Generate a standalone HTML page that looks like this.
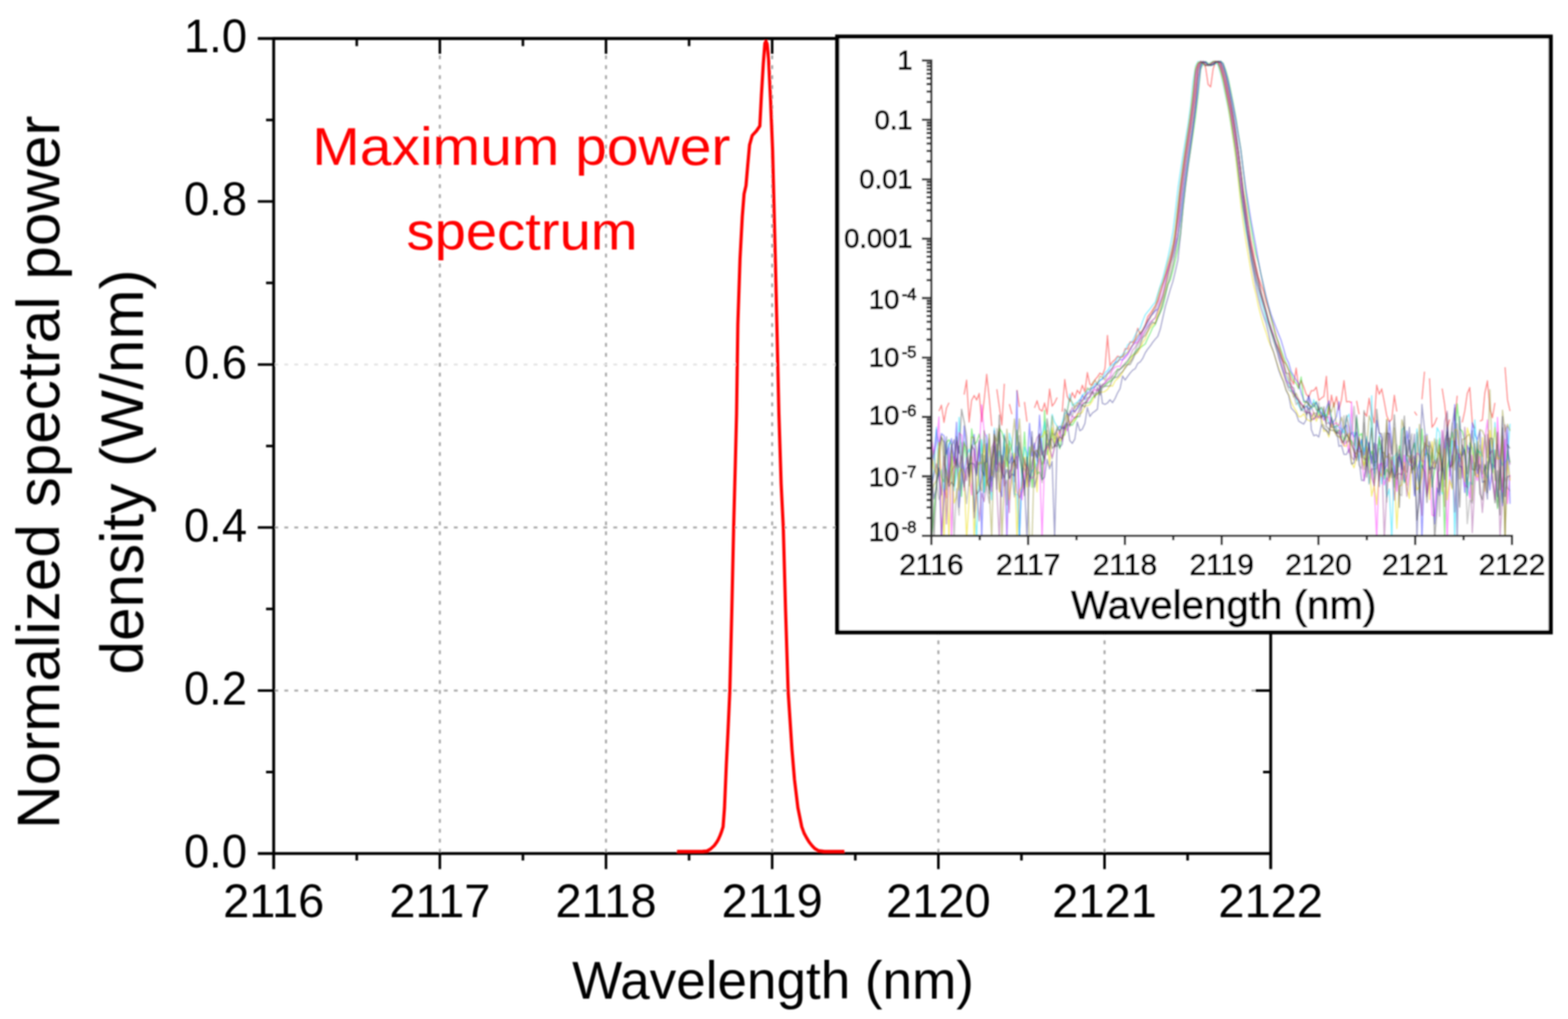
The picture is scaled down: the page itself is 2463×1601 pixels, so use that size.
<!DOCTYPE html><html><head><meta charset="utf-8"><title>Spectrum</title><style>html,body{margin:0;padding:0;background:#fff;overflow:hidden}svg{display:block}</style></head><body><div id="w"><svg width="2463" height="1601" viewBox="0 0 2463 1601" font-family='"Liberation Sans", Arial, sans-serif' fill="#000"><defs><filter id="bl" filterUnits="userSpaceOnUse" x="0" y="0" width="2463" height="1601"><feGaussianBlur stdDeviation="1"/></filter></defs><rect width="2463" height="1601" fill="#fff"/><g filter="url(#bl)"><line x1="690.9" y1="87.02" x2="690.9" y2="1339.0" stroke="#a2a2a2" stroke-width="3" stroke-dasharray="6.0 9.58"/><line x1="951.9" y1="87.02" x2="951.9" y2="1339.0" stroke="#a2a2a2" stroke-width="3" stroke-dasharray="6.0 9.58"/><line x1="1212.9" y1="87.02" x2="1212.9" y2="1339.0" stroke="#a2a2a2" stroke-width="3" stroke-dasharray="6.0 9.58"/><line x1="1474.0" y1="87.02" x2="1474.0" y2="1339.0" stroke="#a2a2a2" stroke-width="3" stroke-dasharray="6.0 9.58"/><line x1="1735.0" y1="87.02" x2="1735.0" y2="1339.0" stroke="#a2a2a2" stroke-width="3" stroke-dasharray="6.0 9.58"/><line x1="431.04" y1="1084.9" x2="1994.0" y2="1084.9" stroke="#a6a6a6" stroke-width="3" stroke-dasharray="6.0 9.66"/><line x1="431.04" y1="828.8" x2="1994.0" y2="828.8" stroke="#a6a6a6" stroke-width="3" stroke-dasharray="6.0 9.66"/><line x1="431.04" y1="572.7" x2="1994.0" y2="572.7" stroke="#e2e2e2" stroke-width="3" stroke-dasharray="6.0 9.66"/><line x1="404.9" y1="60.5" x2="1996.0" y2="60.5" stroke="#000" stroke-width="4.5"/><line x1="404.9" y1="1341.0" x2="1998.0" y2="1341.0" stroke="#000" stroke-width="4.5"/><line x1="429.9" y1="58.5" x2="429.9" y2="1365.5" stroke="#000" stroke-width="4.5"/><line x1="1996.0" y1="58.5" x2="1996.0" y2="1365.5" stroke="#000" stroke-width="4.5"/><path d="M560.4,1341.0v11 M560.4,60.5v12 M690.9,1341.0v24.5 M690.9,60.5v24 M821.4,1341.0v11 M821.4,60.5v12 M951.9,1341.0v24.5 M951.9,60.5v24 M1082.4,1341.0v11 M1082.4,60.5v12 M1212.9,1341.0v24.5 M1212.9,60.5v24 M1343.5,1341.0v11 M1343.5,60.5v12 M1474.0,1341.0v24.5 M1474.0,60.5v24 M1604.5,1341.0v11 M1604.5,60.5v12 M1735.0,1341.0v24.5 M1735.0,60.5v24 M1865.5,1341.0v11 M1865.5,60.5v12 M429.9,1213.0h-12 M1996.0,1213.0h-12 M429.9,1084.9h-25 M1996.0,1084.9h-24 M429.9,956.8h-12 M1996.0,956.8h-12 M429.9,828.8h-25 M1996.0,828.8h-24 M429.9,700.8h-12 M1996.0,700.8h-12 M429.9,572.7h-25 M1996.0,572.7h-24 M429.9,444.6h-12 M1996.0,444.6h-12 M429.9,316.6h-25 M1996.0,316.6h-24 M429.9,188.5h-12 M1996.0,188.5h-12" stroke="#000" stroke-width="4.0" fill="none"/><polyline fill="none" stroke="#ff0000" stroke-width="5" stroke-linejoin="round" stroke-linecap="butt" points="1063.5,1337.8 1085.0,1337.8 1104.0,1337.6 1110.6,1337.0 1116.0,1334.0 1122.0,1328.5 1126.0,1323.0 1128.3,1319.0 1131.0,1313.0 1133.3,1307.0 1135.8,1299.0 1138.0,1270.0 1141.0,1200.0 1143.5,1150.0 1146.4,1086.0 1149.5,960.0 1152.4,829.0 1155.0,730.0 1157.0,650.0 1159.0,509.5 1162.4,407.0 1166.0,340.0 1168.8,304.6 1171.8,291.8 1174.5,260.0 1177.4,227.8 1181.6,212.9 1188.0,206.0 1193.5,198.0 1196.0,150.0 1199.0,100.0 1201.5,68.0 1203.2,65.0 1205.0,69.0 1207.2,92.0 1210.5,160.0 1213.6,236.0 1218.0,411.0 1221.0,540.0 1223.5,650.0 1227.0,760.0 1230.4,829.0 1234.0,960.0 1238.0,1086.0 1244.0,1177.5 1248.0,1225.0 1253.3,1269.0 1259.4,1299.0 1263.0,1309.0 1267.0,1316.4 1271.0,1323.0 1275.8,1329.0 1280.0,1333.3 1285.9,1336.6 1295.0,1337.7 1326.3,1337.8"/><line x1="429.9" y1="60.5" x2="1996.0" y2="60.5" stroke="#000" stroke-width="4.5"/><text transform="translate(429.9,1441) scale(0.985,1)" font-size="75" text-anchor="middle">2116</text><text transform="translate(690.9,1441) scale(0.985,1)" font-size="75" text-anchor="middle">2117</text><text transform="translate(951.9,1441) scale(0.985,1)" font-size="75" text-anchor="middle">2118</text><text transform="translate(1212.9,1441) scale(0.985,1)" font-size="75" text-anchor="middle">2119</text><text transform="translate(1474.0,1441) scale(0.985,1)" font-size="75" text-anchor="middle">2120</text><text transform="translate(1735.0,1441) scale(0.985,1)" font-size="75" text-anchor="middle">2121</text><text transform="translate(1996.0,1441) scale(0.985,1)" font-size="75" text-anchor="middle">2122</text><text transform="translate(388,1362.8) scale(0.95,1)" font-size="75" text-anchor="end">0.0</text><text transform="translate(388,1106.7) scale(0.95,1)" font-size="75" text-anchor="end">0.2</text><text transform="translate(388,850.6) scale(0.95,1)" font-size="75" text-anchor="end">0.4</text><text transform="translate(388,594.5) scale(0.95,1)" font-size="75" text-anchor="end">0.6</text><text transform="translate(388,338.4) scale(0.95,1)" font-size="75" text-anchor="end">0.8</text><text transform="translate(388,82.3) scale(0.95,1)" font-size="75" text-anchor="end">1.0</text><text x="898.7" y="1569" font-size="83.3">Wavelength (nm)</text><text transform="translate(93,1302.4) rotate(-90)" font-size="94.7">Normalized spectral power</text><text transform="translate(224.5,1059.8) rotate(-90)" font-size="94.7">density (W/nm)</text><g fill="#ff0000"><text transform="translate(490.6,259.4) scale(1.066,1)" font-size="84">Maximum power</text><text transform="translate(638.5,391.8) scale(1.051,1)" font-size="84">spectrum</text></g><rect x="1315.2" y="57.6" width="1120.6" height="935.8" fill="#fff" stroke="#000" stroke-width="6.6"/><clipPath id="ic"><rect x="1463.0" y="85.0" width="912.0" height="756.8"/></clipPath><g clip-path="url(#ic)"><path d="M1474.9,645.8 L1478.8,636.7 L1482.8,663.6 L1486.7,641.1 L1490.7,632.8 M1514.4,620.0 L1518.3,597.3 L1522.3,663.2 L1526.2,628.9 L1530.2,621.4 L1534.1,628.5 L1538.1,618.2 L1542.0,662.4 L1546.0,627.6 L1549.9,588.1 L1553.9,625.7 L1557.8,669.5 M1565.8,611.5 L1569.7,639.0 L1573.7,667.7 L1577.6,602.9 M1585.5,634.8 L1589.5,650.7 M1597.4,612.7 L1601.3,639.4 M1609.2,631.5 L1613.2,662.5 M1625.0,640.9 L1629.0,629.6 L1632.9,643.2 L1636.9,645.9 L1640.8,633.2 L1644.8,650.9 L1648.7,611.2 L1652.7,638.1 L1656.6,632.9 L1660.6,624.5 M1668.5,647.0 L1672.5,596.2 L1676.4,622.8 L1680.4,630.9 L1684.3,616.7 L1688.3,625.4 L1692.2,613.1 L1696.2,618.8 L1700.1,605.2 L1704.1,616.0 L1708.0,585.4 L1712.0,604.0 L1715.9,605.1 L1719.9,596.8 L1723.8,592.2 L1727.8,586.1 L1731.7,589.2 L1735.7,578.7 L1739.6,527.0 L1743.6,574.5 L1747.5,568.3 L1751.5,565.2 L1755.4,559.5 L1759.4,561.2 L1763.4,560.4 L1767.3,547.9 L1771.3,548.3 L1775.2,537.1 L1779.2,538.1 L1783.1,532.6 L1787.1,515.7 L1791.0,525.1 L1795.0,519.8 L1798.9,511.1 L1802.9,497.5 L1806.8,492.5 L1810.8,486.2 L1814.7,480.0 L1818.7,472.8 L1822.6,460.0 L1826.6,447.2 L1830.5,433.2 L1834.5,420.2 L1838.4,407.4 L1842.4,392.6 L1846.3,370.9 L1850.3,342.5 L1854.2,306.3 L1858.2,276.5 L1862.2,249.4 L1866.1,225.4 L1870.1,200.3 L1874.0,172.5 L1878.0,141.7 L1881.9,106.3 L1885.9,97.9 L1889.8,97.5 L1893.8,106.4 L1897.7,132.7 L1901.7,136.6 L1905.6,108.2 L1909.6,97.2 L1913.5,96.4 L1917.5,100.5 L1921.4,113.7 L1925.4,128.7 L1929.3,148.2 L1933.3,167.0 L1937.2,189.6 L1941.2,213.8 L1945.1,238.5 L1949.1,269.2 L1953.0,299.6 L1957.0,323.9 L1961.0,353.5 L1964.9,377.7 L1968.9,397.4 L1972.8,417.3 L1976.8,435.4 L1980.7,446.8 L1984.7,457.8 L1988.6,473.7 L1992.6,485.9 L1996.5,499.6 L2000.5,512.5 L2004.4,526.8 L2008.4,541.1 L2012.3,554.5 L2016.3,567.4 L2020.2,572.2 L2024.2,582.3 L2028.1,596.1 L2032.1,603.6 L2036.0,578.4 L2040.0,609.7 L2043.9,597.6 L2047.9,607.8 L2051.8,619.5 L2055.8,623.8 L2059.8,613.8 L2063.7,613.6 L2067.7,608.1 L2071.6,629.2 L2075.6,625.4 L2079.5,622.9 L2083.5,591.2 L2087.4,651.7 L2091.4,620.8 L2095.3,639.5 L2099.3,623.0 L2103.2,644.0 L2107.2,627.8 L2111.1,598.1 L2115.1,631.4 L2119.0,630.7 L2123.0,632.8 M2130.9,629.6 L2134.8,650.8 M2142.7,647.9 L2146.7,654.0 L2150.6,625.9 L2154.6,649.8 L2158.6,664.4 L2162.5,605.1 L2166.5,619.5 L2170.4,610.9 L2174.4,631.2 L2178.3,653.1 L2182.3,662.7 L2186.2,658.5 L2190.2,621.1 L2194.1,646.7 M2221.8,646.7 L2225.7,652.7 M2233.6,627.3 L2237.6,583.8 M2245.5,594.4 L2249.4,671.5 L2253.4,665.6 L2257.4,655.9 M2265.3,610.4 L2269.2,635.2 L2273.2,673.5 L2277.1,658.9 M2285.0,661.1 L2289.0,621.6 M2296.9,663.8 L2300.8,645.9 L2304.8,618.1 L2308.7,608.9 L2312.7,664.5 L2316.6,673.2 M2324.5,661.6 L2328.5,660.0 L2332.4,617.2 L2336.4,598.4 L2340.3,642.2 L2344.3,656.3 L2348.2,632.8 M2364.1,576.8 L2368.0,628.2 L2372.0,646.1" fill="none" stroke="#ff2020" stroke-opacity="0.5" stroke-width="2.1" stroke-linejoin="round"/><path d="M1463.0,849.3 L1467.0,806.2 L1470.9,759.4 L1474.9,734.8 L1478.8,750.5 L1482.8,757.1 L1486.7,695.1 L1490.7,690.8 L1494.6,699.2 L1498.6,761.8 L1502.5,724.0 L1506.5,734.1 L1510.4,780.0 L1514.4,693.9 L1518.3,723.6 L1522.3,744.9 L1526.2,673.9 L1530.2,698.3 L1534.1,694.9 L1538.1,682.1 L1542.0,700.0 L1546.0,773.7 L1549.9,741.2 L1553.9,689.4 L1557.8,755.2 L1561.8,725.3 L1565.8,711.8 L1569.7,673.0 L1573.7,678.3 L1577.6,693.2 L1581.6,733.3 L1585.5,692.5 L1589.5,706.8 L1593.4,731.8 L1597.4,675.9 L1601.3,707.5 L1605.3,751.2 L1609.2,678.9 L1613.2,732.8 L1617.1,702.3 L1621.1,765.6 L1625.0,721.3 L1629.0,745.0 L1632.9,741.5 L1636.9,754.1 L1640.8,644.9 L1644.8,714.4 L1648.7,701.6 L1652.7,676.0 L1656.6,703.0 L1660.6,686.3 L1664.6,705.1 L1668.5,683.3 L1672.5,683.5 L1676.4,668.1 L1680.4,666.8 L1684.3,668.3 L1688.3,661.8 L1692.2,655.3 L1696.2,640.3 L1700.1,637.1 L1704.1,632.1 L1708.0,633.2 L1712.0,632.2 L1715.9,624.7 L1719.9,621.5 L1723.8,619.0 L1727.8,611.8 L1731.7,606.3 L1735.7,606.4 L1739.6,602.3 L1743.6,599.2 L1747.5,597.2 L1751.5,591.2 L1755.4,579.7 L1759.4,580.5 L1763.4,574.8 L1767.3,572.3 L1771.3,568.4 L1775.2,561.6 L1779.2,558.1 L1783.1,553.2 L1787.1,548.4 L1791.0,546.7 L1795.0,543.3 L1798.9,540.5 L1802.9,531.4 L1806.8,523.4 L1810.8,514.4 L1814.7,510.0 L1818.7,498.2 L1822.6,490.9 L1826.6,481.9 L1830.5,465.5 L1834.5,446.9 L1838.4,439.7 L1842.4,424.9 L1846.3,408.6 L1850.3,389.2 L1854.2,367.8 L1858.2,328.4 L1862.2,292.5 L1866.1,261.1 L1870.1,236.7 L1874.0,210.9 L1878.0,183.8 L1881.9,151.0 L1885.9,109.9 L1889.8,99.6 L1893.8,96.7 L1897.7,99.5 L1901.7,103.3 L1905.6,102.1 L1909.6,99.9 L1913.5,96.9 L1917.5,96.1 L1921.4,99.3 L1925.4,109.8 L1929.3,123.3 L1933.3,142.8 L1937.2,162.2 L1941.2,183.9 L1945.1,209.6 L1949.1,234.7 L1953.0,267.9 L1957.0,303.7 L1961.0,332.6 L1964.9,355.6 L1968.9,380.8 L1972.8,399.2 L1976.8,412.7 L1980.7,430.6 L1984.7,449.6 L1988.6,466.9 L1992.6,482.2 L1996.5,499.0 L2000.5,514.2 L2004.4,528.9 L2008.4,537.7 L2012.3,550.1 L2016.3,561.1 L2020.2,570.6 L2024.2,580.4 L2028.1,588.0 L2032.1,598.2 L2036.0,602.3 L2040.0,610.7 L2043.9,592.4 L2047.9,632.0 L2051.8,631.2 L2055.8,634.7 L2059.8,640.2 L2063.7,639.0 L2067.7,630.8 L2071.6,651.5 L2075.6,654.9 L2079.5,648.9 L2083.5,655.7 L2087.4,634.7 L2091.4,655.2 L2095.3,670.9 L2099.3,679.0 L2103.2,675.2 L2107.2,680.9 L2111.1,692.1 L2115.1,683.1 L2119.0,689.7 L2123.0,692.7 L2126.9,700.2 L2130.9,655.6 L2134.8,685.0 L2138.8,681.1 L2142.7,719.9 L2146.7,732.5 L2150.6,720.6 L2154.6,708.6 L2158.6,726.9 L2162.5,725.0 L2166.5,688.2 L2170.4,711.5 L2174.4,752.3 L2178.3,737.1 L2182.3,745.3 L2186.2,718.2 L2190.2,763.9 L2194.1,731.5 L2198.1,700.7 L2202.0,724.9 L2206.0,758.7 L2209.9,748.5 L2213.9,722.0 L2217.8,708.9 L2221.8,695.9 L2225.7,732.1 L2229.7,774.5 L2233.6,674.1 L2237.6,715.9 L2241.5,711.9 L2245.5,715.8 L2249.4,765.3 L2253.4,739.0 L2257.4,717.6 L2261.3,688.8 L2265.3,725.0 L2269.2,839.7 L2273.2,736.2 L2277.1,714.1 L2281.1,679.1 L2285.0,700.8 L2289.0,634.5 L2292.9,674.3 L2296.9,677.1 L2300.8,692.2 L2304.8,778.8 L2308.7,695.8 L2312.7,705.1 L2316.6,747.0 L2320.6,705.5 L2324.5,711.8 L2328.5,744.8 L2332.4,732.0 L2336.4,737.3 L2340.3,718.8 L2344.3,743.3 L2348.2,707.1 L2352.2,799.0 L2356.2,738.0 L2360.1,790.3 L2364.1,745.5 L2368.0,708.2 L2372.0,726.7" fill="none" stroke="#10e010" stroke-opacity="0.45" stroke-width="2.1" stroke-linejoin="round"/><path d="M1463.0,736.2 L1467.0,712.6 L1470.9,674.7 L1474.9,700.0 L1478.8,681.2 L1482.8,684.5 L1486.7,713.6 L1490.7,699.8 L1494.6,689.1 L1498.6,724.3 L1502.5,663.6 L1506.5,797.2 L1510.4,757.6 L1514.4,669.4 L1518.3,707.3 L1522.3,747.2 L1526.2,709.1 L1530.2,682.7 L1534.1,744.0 L1538.1,694.6 L1542.0,849.3 L1546.0,727.3 L1549.9,725.7 L1553.9,681.7 L1557.8,764.4 L1561.8,736.6 L1565.8,698.3 L1569.7,767.5 L1573.7,780.2 L1577.6,701.7 L1581.6,722.6 L1585.5,728.0 L1589.5,717.2 L1593.4,757.0 L1597.4,614.4 L1601.3,849.3 L1605.3,736.4 L1609.2,767.7 L1613.2,734.3 L1617.1,665.2 L1621.1,716.4 L1625.0,696.2 L1629.0,725.2 L1632.9,652.4 L1636.9,702.1 L1640.8,728.4 L1644.8,682.0 L1648.7,704.6 L1652.7,680.4 L1656.6,683.8 L1660.6,674.5 L1664.6,669.5 L1668.5,673.4 L1672.5,671.6 L1676.4,649.1 L1680.4,652.9 L1684.3,645.2 L1688.3,646.2 L1692.2,641.9 L1696.2,636.6 L1700.1,620.4 L1704.1,628.2 L1708.0,616.8 L1712.0,615.3 L1715.9,609.1 L1719.9,608.2 L1723.8,601.4 L1727.8,597.5 L1731.7,595.7 L1735.7,591.3 L1739.6,586.5 L1743.6,581.8 L1747.5,578.3 L1751.5,569.1 L1755.4,568.6 L1759.4,564.6 L1763.4,565.5 L1767.3,559.3 L1771.3,556.2 L1775.2,549.9 L1779.2,542.8 L1783.1,537.3 L1787.1,532.1 L1791.0,524.5 L1795.0,520.0 L1798.9,514.4 L1802.9,506.6 L1806.8,497.0 L1810.8,493.5 L1814.7,488.4 L1818.7,485.6 L1822.6,475.7 L1826.6,465.8 L1830.5,449.7 L1834.5,434.4 L1838.4,415.9 L1842.4,403.2 L1846.3,386.9 L1850.3,370.4 L1854.2,344.7 L1858.2,309.3 L1862.2,277.5 L1866.1,248.7 L1870.1,223.6 L1874.0,199.8 L1878.0,172.7 L1881.9,143.0 L1885.9,106.8 L1889.8,98.2 L1893.8,97.1 L1897.7,100.5 L1901.7,103.0 L1905.6,101.8 L1909.6,99.2 L1913.5,96.7 L1917.5,96.3 L1921.4,100.3 L1925.4,113.1 L1929.3,127.8 L1933.3,147.3 L1937.2,165.8 L1941.2,187.8 L1945.1,211.6 L1949.1,235.8 L1953.0,267.5 L1957.0,296.4 L1961.0,321.0 L1964.9,345.1 L1968.9,366.7 L1972.8,387.3 L1976.8,410.7 L1980.7,431.0 L1984.7,448.1 L1988.6,464.9 L1992.6,480.6 L1996.5,493.5 L2000.5,504.4 L2004.4,514.7 L2008.4,525.0 L2012.3,534.7 L2016.3,548.0 L2020.2,562.1 L2024.2,569.9 L2028.1,583.7 L2032.1,590.6 L2036.0,597.3 L2040.0,602.3 L2043.9,617.6 L2047.9,628.9 L2051.8,632.2 L2055.8,622.1 L2059.8,634.0 L2063.7,638.6 L2067.7,631.8 L2071.6,643.6 L2075.6,649.2 L2079.5,654.6 L2083.5,641.0 L2087.4,629.9 L2091.4,667.7 L2095.3,661.8 L2099.3,654.7 L2103.2,631.4 L2107.2,682.0 L2111.1,671.2 L2115.1,667.9 L2119.0,693.9 L2123.0,679.5 L2126.9,686.4 L2130.9,679.1 L2134.8,706.3 L2138.8,690.3 L2142.7,714.8 L2146.7,689.7 L2150.6,703.8 L2154.6,719.6 L2158.6,743.7 L2162.5,660.4 L2166.5,680.1 L2170.4,688.4 L2174.4,739.3 L2178.3,731.2 L2182.3,661.2 L2186.2,694.9 L2190.2,750.5 L2194.1,720.5 L2198.1,717.6 L2202.0,730.0 L2206.0,756.5 L2209.9,677.1 L2213.9,701.7 L2217.8,730.4 L2221.8,779.2 L2225.7,744.5 L2229.7,723.6 L2233.6,849.3 L2237.6,737.1 L2241.5,682.5 L2245.5,718.4 L2249.4,750.9 L2253.4,823.2 L2257.4,766.7 L2261.3,778.4 L2265.3,729.3 L2269.2,711.3 L2273.2,671.9 L2277.1,724.1 L2281.1,766.5 L2285.0,635.9 L2289.0,712.0 L2292.9,733.4 L2296.9,733.4 L2300.8,773.8 L2304.8,699.9 L2308.7,709.6 L2312.7,664.3 L2316.6,682.4 L2320.6,691.1 L2324.5,676.5 L2328.5,734.0 L2332.4,740.0 L2336.4,725.2 L2340.3,769.8 L2344.3,728.7 L2348.2,735.6 L2352.2,698.3 L2356.2,723.8 L2360.1,794.4 L2364.1,722.0 L2368.0,670.3 L2372.0,791.6" fill="none" stroke="#2020ff" stroke-opacity="0.42" stroke-width="2.1" stroke-linejoin="round"/><path d="M1463.0,766.2 L1467.0,743.9 L1470.9,671.4 L1474.9,748.0 L1478.8,738.2 L1482.8,772.5 L1486.7,750.5 L1490.7,696.4 L1494.6,753.0 L1498.6,771.1 L1502.5,745.8 L1506.5,655.9 L1510.4,715.7 L1514.4,743.3 L1518.3,716.6 L1522.3,705.8 L1526.2,717.9 L1530.2,789.7 L1534.1,849.3 L1538.1,730.4 L1542.0,690.9 L1546.0,772.7 L1549.9,683.2 L1553.9,740.9 L1557.8,785.3 L1561.8,672.7 L1565.8,741.5 L1569.7,708.5 L1573.7,728.3 L1577.6,681.6 L1581.6,849.3 L1585.5,680.7 L1589.5,695.5 L1593.4,776.7 L1597.4,776.9 L1601.3,849.3 L1605.3,751.3 L1609.2,702.5 L1613.2,711.7 L1617.1,753.8 L1621.1,739.7 L1625.0,736.0 L1629.0,727.3 L1632.9,708.4 L1636.9,683.0 L1640.8,662.4 L1644.8,702.3 L1648.7,693.1 L1652.7,651.1 L1656.6,663.6 L1660.6,670.0 L1664.6,676.8 L1668.5,663.4 L1672.5,649.6 L1676.4,646.9 L1680.4,619.0 L1684.3,637.6 L1688.3,634.1 L1692.2,631.9 L1696.2,627.5 L1700.1,621.7 L1704.1,617.3 L1708.0,613.3 L1712.0,610.1 L1715.9,609.8 L1719.9,602.5 L1723.8,604.7 L1727.8,598.2 L1731.7,593.7 L1735.7,585.3 L1739.6,582.4 L1743.6,576.4 L1747.5,572.6 L1751.5,570.5 L1755.4,561.8 L1759.4,561.0 L1763.4,557.0 L1767.3,551.9 L1771.3,541.7 L1775.2,539.1 L1779.2,534.9 L1783.1,526.7 L1787.1,519.4 L1791.0,515.9 L1795.0,504.4 L1798.9,494.7 L1802.9,489.7 L1806.8,484.9 L1810.8,479.4 L1814.7,474.6 L1818.7,461.3 L1822.6,448.9 L1826.6,436.6 L1830.5,420.8 L1834.5,404.6 L1838.4,386.3 L1842.4,364.0 L1846.3,331.5 L1850.3,295.5 L1854.2,268.8 L1858.2,242.9 L1862.2,218.5 L1866.1,195.1 L1870.1,165.7 L1874.0,126.9 L1878.0,103.4 L1881.9,96.6 L1885.9,97.7 L1889.8,101.7 L1893.8,102.7 L1897.7,101.4 L1901.7,98.4 L1905.6,96.5 L1909.6,97.4 L1913.5,103.3 L1917.5,116.7 L1921.4,133.2 L1925.4,152.5 L1929.3,170.9 L1933.3,194.9 L1937.2,219.0 L1941.2,247.4 L1945.1,278.5 L1949.1,311.7 L1953.0,336.1 L1957.0,362.6 L1961.0,380.7 L1964.9,403.7 L1968.9,419.3 L1972.8,439.4 L1976.8,454.6 L1980.7,471.9 L1984.7,485.3 L1988.6,500.6 L1992.6,510.3 L1996.5,520.8 L2000.5,533.0 L2004.4,545.5 L2008.4,555.1 L2012.3,571.9 L2016.3,583.9 L2020.2,593.1 L2024.2,603.9 L2028.1,614.1 L2032.1,614.4 L2036.0,626.9 L2040.0,637.6 L2043.9,644.6 L2047.9,643.3 L2051.8,637.1 L2055.8,641.8 L2059.8,642.6 L2063.7,627.9 L2067.7,644.5 L2071.6,647.5 L2075.6,639.8 L2079.5,659.7 L2083.5,650.7 L2087.4,665.1 L2091.4,668.5 L2095.3,672.5 L2099.3,668.4 L2103.2,671.9 L2107.2,673.9 L2111.1,680.6 L2115.1,656.7 L2119.0,650.7 L2123.0,679.3 L2126.9,679.7 L2130.9,707.1 L2134.8,723.6 L2138.8,691.6 L2142.7,709.5 L2146.7,686.1 L2150.6,759.3 L2154.6,621.9 L2158.6,752.7 L2162.5,716.3 L2166.5,683.8 L2170.4,760.1 L2174.4,737.5 L2178.3,781.2 L2182.3,768.3 L2186.2,849.3 L2190.2,717.8 L2194.1,711.1 L2198.1,733.4 L2202.0,675.3 L2206.0,670.7 L2209.9,722.5 L2213.9,730.3 L2217.8,732.3 L2221.8,738.9 L2225.7,673.8 L2229.7,713.7 L2233.6,734.9 L2237.6,731.1 L2241.5,702.4 L2245.5,737.6 L2249.4,711.1 L2253.4,724.2 L2257.4,672.1 L2261.3,679.5 L2265.3,775.7 L2269.2,729.0 L2273.2,696.3 L2277.1,739.8 L2281.1,692.6 L2285.0,849.3 L2289.0,700.8 L2292.9,725.4 L2296.9,711.6 L2300.8,703.4 L2304.8,778.2 L2308.7,757.4 L2312.7,761.2 L2316.6,659.8 L2320.6,711.7 L2324.5,709.0 L2328.5,716.5 L2332.4,742.5 L2336.4,751.0 L2340.3,691.1 L2344.3,737.1 L2348.2,663.7 L2352.2,715.7 L2356.2,719.6 L2360.1,731.2 L2364.1,725.8 L2368.0,721.7 L2372.0,665.8" fill="none" stroke="#00e0ff" stroke-opacity="0.45" stroke-width="2.1" stroke-linejoin="round"/><path d="M1463.0,686.2 L1467.0,713.9 L1470.9,694.8 L1474.9,655.1 L1478.8,849.3 L1482.8,768.3 L1486.7,782.1 L1490.7,703.6 L1494.6,849.3 L1498.6,717.8 L1502.5,735.2 L1506.5,679.7 L1510.4,683.8 L1514.4,770.8 L1518.3,718.5 L1522.3,739.9 L1526.2,777.5 L1530.2,704.5 L1534.1,734.0 L1538.1,712.1 L1542.0,636.1 L1546.0,679.0 L1549.9,687.4 L1553.9,743.7 L1557.8,772.3 L1561.8,682.0 L1565.8,739.7 L1569.7,726.7 L1573.7,742.2 L1577.6,724.6 L1581.6,849.3 L1585.5,739.7 L1589.5,738.3 L1593.4,720.4 L1597.4,717.2 L1601.3,768.8 L1605.3,785.3 L1609.2,745.9 L1613.2,732.2 L1617.1,748.6 L1621.1,751.5 L1625.0,746.2 L1629.0,730.8 L1632.9,720.6 L1636.9,849.3 L1640.8,724.6 L1644.8,700.2 L1648.7,706.8 L1652.7,718.5 L1656.6,700.9 L1660.6,690.1 L1664.6,675.4 L1668.5,693.4 L1672.5,668.9 L1676.4,677.1 L1680.4,664.2 L1684.3,653.4 L1688.3,657.1 L1692.2,650.2 L1696.2,644.0 L1700.1,633.4 L1704.1,632.9 L1708.0,631.5 L1712.0,623.9 L1715.9,618.7 L1719.9,611.4 L1723.8,614.4 L1727.8,608.4 L1731.7,606.8 L1735.7,599.8 L1739.6,595.7 L1743.6,590.9 L1747.5,581.4 L1751.5,577.1 L1755.4,575.3 L1759.4,575.8 L1763.4,565.5 L1767.3,562.9 L1771.3,557.7 L1775.2,549.9 L1779.2,541.8 L1783.1,538.9 L1787.1,537.8 L1791.0,532.0 L1795.0,525.4 L1798.9,519.5 L1802.9,514.0 L1806.8,505.7 L1810.8,502.7 L1814.7,499.7 L1818.7,488.8 L1822.6,473.0 L1826.6,460.7 L1830.5,444.3 L1834.5,426.4 L1838.4,412.8 L1842.4,398.7 L1846.3,378.8 L1850.3,348.9 L1854.2,313.7 L1858.2,281.0 L1862.2,249.4 L1866.1,223.6 L1870.1,196.0 L1874.0,164.6 L1878.0,122.9 L1881.9,102.7 L1885.9,96.2 L1889.8,97.8 L1893.8,101.9 L1897.7,102.6 L1901.7,101.2 L1905.6,98.2 L1909.6,96.4 L1913.5,97.6 L1917.5,104.0 L1921.4,117.5 L1925.4,134.3 L1929.3,154.1 L1933.3,174.2 L1937.2,199.9 L1941.2,226.0 L1945.1,255.9 L1949.1,288.9 L1953.0,316.9 L1957.0,344.4 L1961.0,369.1 L1964.9,387.2 L1968.9,408.7 L1972.8,427.9 L1976.8,441.1 L1980.7,459.0 L1984.7,475.6 L1988.6,489.3 L1992.6,505.1 L1996.5,516.5 L2000.5,525.9 L2004.4,539.6 L2008.4,551.2 L2012.3,565.6 L2016.3,579.0 L2020.2,596.8 L2024.2,602.0 L2028.1,603.0 L2032.1,618.0 L2036.0,623.5 L2040.0,628.7 L2043.9,633.0 L2047.9,639.1 L2051.8,647.8 L2055.8,648.2 L2059.8,649.4 L2063.7,659.3 L2067.7,656.1 L2071.6,654.6 L2075.6,653.2 L2079.5,660.2 L2083.5,655.1 L2087.4,654.9 L2091.4,669.9 L2095.3,666.2 L2099.3,664.3 L2103.2,668.5 L2107.2,691.4 L2111.1,700.7 L2115.1,692.6 L2119.0,711.5 L2123.0,631.5 L2126.9,716.4 L2130.9,719.2 L2134.8,692.5 L2138.8,722.5 L2142.7,755.6 L2146.7,720.4 L2150.6,743.9 L2154.6,735.7 L2158.6,764.7 L2162.5,849.3 L2166.5,730.0 L2170.4,727.9 L2174.4,761.9 L2178.3,750.7 L2182.3,756.2 L2186.2,723.1 L2190.2,733.9 L2194.1,771.8 L2198.1,706.0 L2202.0,754.0 L2206.0,715.6 L2209.9,762.3 L2213.9,719.2 L2217.8,734.5 L2221.8,728.2 L2225.7,712.0 L2229.7,714.4 L2233.6,724.5 L2237.6,724.6 L2241.5,776.5 L2245.5,733.2 L2249.4,809.2 L2253.4,811.0 L2257.4,742.2 L2261.3,739.0 L2265.3,675.9 L2269.2,706.4 L2273.2,849.3 L2277.1,742.2 L2281.1,714.5 L2285.0,687.9 L2289.0,711.3 L2292.9,717.6 L2296.9,726.8 L2300.8,764.3 L2304.8,763.3 L2308.7,783.0 L2312.7,715.3 L2316.6,740.2 L2320.6,755.0 L2324.5,717.1 L2328.5,751.2 L2332.4,691.6 L2336.4,659.7 L2340.3,713.3 L2344.3,755.3 L2348.2,785.0 L2352.2,655.7 L2356.2,713.2 L2360.1,773.1 L2364.1,690.2 L2368.0,791.2 L2372.0,746.0" fill="none" stroke="#ff10ff" stroke-opacity="0.42" stroke-width="2.1" stroke-linejoin="round"/><path d="M1463.0,711.0 L1467.0,735.5 L1470.9,745.0 L1474.9,695.0 L1478.8,749.9 L1482.8,849.3 L1486.7,749.0 L1490.7,849.3 L1494.6,708.1 L1498.6,790.4 L1502.5,780.3 L1506.5,743.3 L1510.4,736.3 L1514.4,746.3 L1518.3,849.3 L1522.3,785.7 L1526.2,717.3 L1530.2,849.3 L1534.1,773.5 L1538.1,726.3 L1542.0,728.5 L1546.0,698.5 L1549.9,763.1 L1553.9,682.1 L1557.8,747.2 L1561.8,682.5 L1565.8,701.7 L1569.7,772.8 L1573.7,747.1 L1577.6,725.1 L1581.6,698.1 L1585.5,784.9 L1589.5,753.1 L1593.4,712.3 L1597.4,849.3 L1601.3,770.4 L1605.3,764.6 L1609.2,718.2 L1613.2,765.0 L1617.1,723.4 L1621.1,699.2 L1625.0,726.8 L1629.0,772.6 L1632.9,687.2 L1636.9,686.4 L1640.8,676.8 L1644.8,691.8 L1648.7,731.8 L1652.7,672.4 L1656.6,695.3 L1660.6,679.4 L1664.6,693.1 L1668.5,688.9 L1672.5,682.8 L1676.4,651.9 L1680.4,664.7 L1684.3,662.8 L1688.3,659.0 L1692.2,650.2 L1696.2,650.3 L1700.1,647.9 L1704.1,637.8 L1708.0,637.3 L1712.0,635.7 L1715.9,630.3 L1719.9,621.8 L1723.8,619.8 L1727.8,615.7 L1731.7,616.2 L1735.7,614.9 L1739.6,611.9 L1743.6,605.8 L1747.5,606.8 L1751.5,598.5 L1755.4,595.1 L1759.4,591.4 L1763.4,585.0 L1767.3,576.6 L1771.3,572.9 L1775.2,567.3 L1779.2,557.9 L1783.1,557.0 L1787.1,553.9 L1791.0,547.0 L1795.0,538.0 L1798.9,532.3 L1802.9,521.5 L1806.8,515.3 L1810.8,510.2 L1814.7,506.7 L1818.7,493.0 L1822.6,480.6 L1826.6,466.6 L1830.5,452.9 L1834.5,434.4 L1838.4,417.5 L1842.4,397.4 L1846.3,366.4 L1850.3,328.5 L1854.2,295.0 L1858.2,263.6 L1862.2,236.1 L1866.1,208.3 L1870.1,177.0 L1874.0,142.2 L1878.0,106.5 L1881.9,98.0 L1885.9,97.2 L1889.8,100.7 L1893.8,103.0 L1897.7,101.8 L1901.7,99.1 L1905.6,96.7 L1909.6,96.4 L1913.5,100.4 L1917.5,113.5 L1921.4,128.4 L1925.4,148.7 L1929.3,169.1 L1933.3,193.6 L1937.2,220.6 L1941.2,248.7 L1945.1,284.4 L1949.1,322.0 L1953.0,351.6 L1957.0,378.6 L1961.0,401.8 L1964.9,425.0 L1968.9,446.8 L1972.8,461.9 L1976.8,481.2 L1980.7,496.5 L1984.7,510.4 L1988.6,521.8 L1992.6,535.0 L1996.5,544.4 L2000.5,553.8 L2004.4,566.6 L2008.4,578.1 L2012.3,588.1 L2016.3,600.2 L2020.2,613.0 L2024.2,619.8 L2028.1,631.0 L2032.1,639.6 L2036.0,645.7 L2040.0,654.6 L2043.9,654.4 L2047.9,650.0 L2051.8,658.1 L2055.8,660.7 L2059.8,661.9 L2063.7,647.8 L2067.7,661.9 L2071.6,651.8 L2075.6,656.0 L2079.5,677.6 L2083.5,676.3 L2087.4,686.6 L2091.4,665.9 L2095.3,677.9 L2099.3,683.2 L2103.2,685.8 L2107.2,691.9 L2111.1,700.6 L2115.1,701.1 L2119.0,680.7 L2123.0,726.5 L2126.9,735.1 L2130.9,718.5 L2134.8,688.1 L2138.8,717.9 L2142.7,731.5 L2146.7,701.6 L2150.6,726.3 L2154.6,779.5 L2158.6,762.8 L2162.5,792.8 L2166.5,740.9 L2170.4,749.1 L2174.4,719.3 L2178.3,658.3 L2182.3,756.6 L2186.2,735.7 L2190.2,749.9 L2194.1,830.5 L2198.1,763.7 L2202.0,762.3 L2206.0,726.3 L2209.9,766.9 L2213.9,783.2 L2217.8,714.9 L2221.8,739.1 L2225.7,769.5 L2229.7,764.6 L2233.6,747.9 L2237.6,706.5 L2241.5,684.2 L2245.5,784.8 L2249.4,693.7 L2253.4,734.8 L2257.4,723.5 L2261.3,700.9 L2265.3,772.6 L2269.2,705.1 L2273.2,785.3 L2277.1,754.3 L2281.1,768.5 L2285.0,674.3 L2289.0,676.1 L2292.9,708.8 L2296.9,717.8 L2300.8,756.6 L2304.8,672.2 L2308.7,685.0 L2312.7,703.5 L2316.6,741.0 L2320.6,749.8 L2324.5,739.9 L2328.5,687.4 L2332.4,771.8 L2336.4,732.4 L2340.3,676.0 L2344.3,703.8 L2348.2,671.9 L2352.2,721.1 L2356.2,720.5 L2360.1,685.1 L2364.1,849.3 L2368.0,723.6 L2372.0,755.2" fill="none" stroke="#f0e000" stroke-opacity="0.5" stroke-width="2.1" stroke-linejoin="round"/><path d="M1463.0,778.8 L1467.0,761.7 L1470.9,754.3 L1474.9,738.3 L1478.8,684.4 L1482.8,729.7 L1486.7,739.0 L1490.7,759.2 L1494.6,740.6 L1498.6,733.5 L1502.5,721.1 L1506.5,770.5 L1510.4,720.1 L1514.4,696.1 L1518.3,704.3 L1522.3,763.5 L1526.2,686.6 L1530.2,687.3 L1534.1,706.0 L1538.1,762.6 L1542.0,771.5 L1546.0,715.6 L1549.9,755.1 L1553.9,766.3 L1557.8,849.3 L1561.8,683.1 L1565.8,693.1 L1569.7,668.3 L1573.7,849.3 L1577.6,758.8 L1581.6,674.3 L1585.5,712.0 L1589.5,700.0 L1593.4,658.4 L1597.4,699.5 L1601.3,658.0 L1605.3,712.3 L1609.2,726.3 L1613.2,735.2 L1617.1,849.3 L1621.1,849.3 L1625.0,708.5 L1629.0,707.9 L1632.9,714.6 L1636.9,730.0 L1640.8,722.9 L1644.8,676.4 L1648.7,703.5 L1652.7,653.6 L1656.6,689.0 L1660.6,669.2 L1664.6,680.2 L1668.5,666.6 L1672.5,658.7 L1676.4,645.5 L1680.4,626.0 L1684.3,632.1 L1688.3,642.0 L1692.2,633.0 L1696.2,634.2 L1700.1,630.7 L1704.1,621.8 L1708.0,609.3 L1712.0,613.5 L1715.9,601.7 L1719.9,597.1 L1723.8,603.8 L1727.8,591.1 L1731.7,592.6 L1735.7,597.0 L1739.6,587.7 L1743.6,585.0 L1747.5,577.9 L1751.5,572.6 L1755.4,569.2 L1759.4,562.3 L1763.4,560.4 L1767.3,555.8 L1771.3,553.6 L1775.2,547.0 L1779.2,541.7 L1783.1,534.3 L1787.1,527.3 L1791.0,522.5 L1795.0,518.2 L1798.9,510.7 L1802.9,504.5 L1806.8,499.8 L1810.8,489.6 L1814.7,481.8 L1818.7,465.5 L1822.6,451.9 L1826.6,442.8 L1830.5,429.5 L1834.5,412.1 L1838.4,399.2 L1842.4,382.5 L1846.3,355.3 L1850.3,319.2 L1854.2,287.1 L1858.2,258.0 L1862.2,230.5 L1866.1,205.0 L1870.1,178.7 L1874.0,148.5 L1878.0,109.1 L1881.9,99.2 L1885.9,96.8 L1889.8,99.8 L1893.8,103.2 L1897.7,102.0 L1901.7,99.7 L1905.6,96.8 L1909.6,96.0 L1913.5,99.6 L1917.5,110.7 L1921.4,124.2 L1925.4,144.0 L1929.3,163.2 L1933.3,185.6 L1937.2,210.6 L1941.2,235.7 L1945.1,268.3 L1949.1,302.9 L1953.0,328.2 L1957.0,351.6 L1961.0,373.1 L1964.9,391.9 L1968.9,409.9 L1972.8,429.1 L1976.8,444.0 L1980.7,457.6 L1984.7,472.9 L1988.6,487.5 L1992.6,502.5 L1996.5,516.7 L2000.5,529.1 L2004.4,540.5 L2008.4,551.2 L2012.3,559.7 L2016.3,573.7 L2020.2,587.0 L2024.2,597.5 L2028.1,610.7 L2032.1,624.0 L2036.0,617.9 L2040.0,627.4 L2043.9,634.9 L2047.9,639.8 L2051.8,629.8 L2055.8,636.6 L2059.8,639.3 L2063.7,633.0 L2067.7,644.0 L2071.6,644.1 L2075.6,640.0 L2079.5,647.9 L2083.5,662.5 L2087.4,638.7 L2091.4,647.6 L2095.3,632.5 L2099.3,669.7 L2103.2,667.8 L2107.2,655.7 L2111.1,671.7 L2115.1,680.0 L2119.0,690.0 L2123.0,698.7 L2126.9,710.7 L2130.9,713.3 L2134.8,691.5 L2138.8,712.9 L2142.7,737.7 L2146.7,705.7 L2150.6,653.3 L2154.6,664.2 L2158.6,762.9 L2162.5,738.3 L2166.5,685.8 L2170.4,710.6 L2174.4,711.4 L2178.3,718.9 L2182.3,712.8 L2186.2,750.7 L2190.2,672.4 L2194.1,752.8 L2198.1,721.1 L2202.0,659.5 L2206.0,676.2 L2209.9,716.3 L2213.9,716.5 L2217.8,738.2 L2221.8,734.7 L2225.7,725.1 L2229.7,666.9 L2233.6,732.4 L2237.6,695.6 L2241.5,700.6 L2245.5,701.5 L2249.4,726.9 L2253.4,689.3 L2257.4,710.6 L2261.3,712.9 L2265.3,734.0 L2269.2,795.7 L2273.2,689.4 L2277.1,688.3 L2281.1,735.0 L2285.0,722.9 L2289.0,705.7 L2292.9,752.4 L2296.9,690.0 L2300.8,689.8 L2304.8,684.6 L2308.7,682.0 L2312.7,786.6 L2316.6,696.8 L2320.6,732.5 L2324.5,674.9 L2328.5,676.9 L2332.4,685.8 L2336.4,719.2 L2340.3,612.2 L2344.3,718.0 L2348.2,754.8 L2352.2,680.0 L2356.2,769.7 L2360.1,644.6 L2364.1,678.2 L2368.0,666.6 L2372.0,677.0" fill="none" stroke="#8a8a10" stroke-opacity="0.4" stroke-width="2.1" stroke-linejoin="round"/><path d="M1463.0,743.5 L1467.0,783.7 L1470.9,766.0 L1474.9,735.5 L1478.8,849.3 L1482.8,781.7 L1486.7,686.2 L1490.7,757.6 L1494.6,702.0 L1498.6,690.8 L1502.5,731.8 L1506.5,700.9 L1510.4,738.9 L1514.4,765.1 L1518.3,736.2 L1522.3,729.5 L1526.2,727.5 L1530.2,729.4 L1534.1,746.9 L1538.1,692.1 L1542.0,739.5 L1546.0,747.6 L1549.9,697.1 L1553.9,769.4 L1557.8,732.0 L1561.8,676.5 L1565.8,729.4 L1569.7,678.5 L1573.7,741.3 L1577.6,750.6 L1581.6,737.6 L1585.5,752.3 L1589.5,744.7 L1593.4,747.6 L1597.4,701.3 L1601.3,716.1 L1605.3,738.3 L1609.2,757.0 L1613.2,849.3 L1617.1,736.3 L1621.1,678.1 L1625.0,765.5 L1629.0,749.5 L1632.9,683.3 L1636.9,753.8 L1640.8,749.7 L1644.8,721.8 L1648.7,736.7 L1652.7,724.9 L1656.6,849.3 L1660.6,688.6 L1664.6,703.1 L1668.5,698.1 L1672.5,668.5 L1676.4,663.9 L1680.4,692.2 L1684.3,696.6 L1688.3,689.9 L1692.2,663.0 L1696.2,676.8 L1700.1,674.3 L1704.1,665.5 L1708.0,640.3 L1712.0,654.5 L1715.9,648.8 L1719.9,646.1 L1723.8,642.9 L1727.8,603.2 L1731.7,633.8 L1735.7,635.4 L1739.6,633.2 L1743.6,628.0 L1747.5,632.6 L1751.5,626.2 L1755.4,617.4 L1759.4,610.4 L1763.4,590.8 L1767.3,597.1 L1771.3,591.3 L1775.2,586.1 L1779.2,581.6 L1783.1,579.4 L1787.1,571.1 L1791.0,568.7 L1795.0,563.1 L1798.9,554.4 L1802.9,548.4 L1806.8,543.7 L1810.8,537.7 L1814.7,532.9 L1818.7,528.4 L1822.6,516.9 L1826.6,499.1 L1830.5,481.7 L1834.5,468.1 L1838.4,454.5 L1842.4,442.2 L1846.3,426.1 L1850.3,408.2 L1854.2,370.6 L1858.2,327.3 L1862.2,292.8 L1866.1,263.7 L1870.1,234.3 L1874.0,204.3 L1878.0,168.5 L1881.9,122.9 L1885.9,102.7 L1889.8,96.3 L1893.8,97.8 L1897.7,101.9 L1901.7,102.6 L1905.6,101.2 L1909.6,98.2 L1913.5,96.4 L1917.5,97.6 L1921.4,104.0 L1925.4,117.5 L1929.3,134.3 L1933.3,155.5 L1937.2,177.2 L1941.2,205.3 L1945.1,234.6 L1949.1,269.5 L1953.0,308.8 L1957.0,343.5 L1961.0,377.5 L1964.9,408.3 L1968.9,429.6 L1972.8,450.4 L1976.8,468.0 L1980.7,483.6 L1984.7,496.4 L1988.6,507.6 L1992.6,523.4 L1996.5,542.1 L2000.5,552.7 L2004.4,566.2 L2008.4,581.1 L2012.3,591.6 L2016.3,599.9 L2020.2,613.2 L2024.2,621.4 L2028.1,641.0 L2032.1,645.4 L2036.0,649.9 L2040.0,661.6 L2043.9,664.0 L2047.9,666.3 L2051.8,659.4 L2055.8,621.3 L2059.8,674.8 L2063.7,684.6 L2067.7,683.2 L2071.6,686.6 L2075.6,667.5 L2079.5,673.7 L2083.5,675.3 L2087.4,682.7 L2091.4,655.5 L2095.3,669.0 L2099.3,672.3 L2103.2,701.3 L2107.2,699.7 L2111.1,714.0 L2115.1,713.9 L2119.0,705.4 L2123.0,729.3 L2126.9,727.0 L2130.9,652.5 L2134.8,723.7 L2138.8,754.9 L2142.7,754.5 L2146.7,725.5 L2150.6,696.1 L2154.6,727.9 L2158.6,696.2 L2162.5,716.3 L2166.5,764.4 L2170.4,691.2 L2174.4,744.7 L2178.3,659.9 L2182.3,750.6 L2186.2,735.2 L2190.2,750.1 L2194.1,740.3 L2198.1,713.5 L2202.0,737.6 L2206.0,686.3 L2209.9,714.7 L2213.9,671.4 L2217.8,728.0 L2221.8,682.3 L2225.7,849.3 L2229.7,736.0 L2233.6,635.3 L2237.6,673.9 L2241.5,710.2 L2245.5,738.0 L2249.4,733.6 L2253.4,737.0 L2257.4,719.9 L2261.3,773.0 L2265.3,728.4 L2269.2,753.2 L2273.2,667.9 L2277.1,701.7 L2281.1,667.7 L2285.0,640.8 L2289.0,849.3 L2292.9,654.5 L2296.9,716.1 L2300.8,706.5 L2304.8,765.8 L2308.7,727.1 L2312.7,676.4 L2316.6,711.5 L2320.6,744.3 L2324.5,729.9 L2328.5,757.8 L2332.4,755.4 L2336.4,784.1 L2340.3,688.4 L2344.3,689.0 L2348.2,734.2 L2352.2,780.5 L2356.2,739.1 L2360.1,654.6 L2364.1,780.0 L2368.0,749.1 L2372.0,747.8" fill="none" stroke="#101080" stroke-opacity="0.36" stroke-width="2.1" stroke-linejoin="round"/><path d="M1463.0,769.5 L1467.0,745.7 L1470.9,728.7 L1474.9,747.2 L1478.8,777.0 L1482.8,717.0 L1486.7,823.1 L1490.7,750.4 L1494.6,698.4 L1498.6,728.1 L1502.5,692.8 L1506.5,734.4 L1510.4,716.4 L1514.4,736.9 L1518.3,755.0 L1522.3,724.2 L1526.2,701.7 L1530.2,813.6 L1534.1,770.0 L1538.1,818.4 L1542.0,774.7 L1546.0,788.0 L1549.9,757.8 L1553.9,750.9 L1557.8,703.3 L1561.8,692.9 L1565.8,769.9 L1569.7,849.3 L1573.7,716.2 L1577.6,763.6 L1581.6,754.7 L1585.5,805.3 L1589.5,712.0 L1593.4,729.2 L1597.4,772.2 L1601.3,782.4 L1605.3,771.5 L1609.2,720.3 L1613.2,749.3 L1617.1,764.4 L1621.1,738.3 L1625.0,700.9 L1629.0,687.2 L1632.9,682.2 L1636.9,714.5 L1640.8,707.6 L1644.8,704.0 L1648.7,690.9 L1652.7,689.5 L1656.6,702.2 L1660.6,693.4 L1664.6,685.8 L1668.5,669.1 L1672.5,673.9 L1676.4,667.1 L1680.4,649.7 L1684.3,640.1 L1688.3,648.4 L1692.2,640.7 L1696.2,628.5 L1700.1,630.1 L1704.1,622.6 L1708.0,619.0 L1712.0,618.2 L1715.9,614.8 L1719.9,607.5 L1723.8,603.7 L1727.8,607.9 L1731.7,604.5 L1735.7,603.0 L1739.6,596.5 L1743.6,594.4 L1747.5,590.0 L1751.5,584.5 L1755.4,581.7 L1759.4,579.7 L1763.4,576.2 L1767.3,570.4 L1771.3,566.1 L1775.2,560.3 L1779.2,550.1 L1783.1,545.6 L1787.1,538.0 L1791.0,530.7 L1795.0,518.9 L1798.9,511.0 L1802.9,502.9 L1806.8,497.9 L1810.8,491.7 L1814.7,486.9 L1818.7,477.2 L1822.6,462.7 L1826.6,447.7 L1830.5,436.1 L1834.5,422.9 L1838.4,407.5 L1842.4,388.3 L1846.3,369.8 L1850.3,331.0 L1854.2,292.3 L1858.2,263.4 L1862.2,236.7 L1866.1,211.5 L1870.1,185.7 L1874.0,154.7 L1878.0,111.4 L1881.9,100.2 L1885.9,96.4 L1889.8,99.0 L1893.8,103.2 L1897.7,102.2 L1901.7,100.3 L1905.6,97.2 L1909.6,96.2 L1913.5,98.9 L1917.5,108.2 L1921.4,121.7 L1925.4,140.5 L1929.3,159.6 L1933.3,180.5 L1937.2,205.5 L1941.2,232.1 L1945.1,262.6 L1949.1,297.0 L1953.0,325.0 L1957.0,350.2 L1961.0,372.7 L1964.9,395.0 L1968.9,417.2 L1972.8,435.9 L1976.8,452.8 L1980.7,466.2 L1984.7,476.9 L1988.6,488.9 L1992.6,502.6 L1996.5,513.6 L2000.5,527.9 L2004.4,543.8 L2008.4,562.7 L2012.3,575.0 L2016.3,587.4 L2020.2,599.1 L2024.2,608.5 L2028.1,609.4 L2032.1,617.9 L2036.0,623.9 L2040.0,628.7 L2043.9,635.0 L2047.9,641.1 L2051.8,638.5 L2055.8,643.7 L2059.8,639.0 L2063.7,649.2 L2067.7,649.2 L2071.6,656.7 L2075.6,655.3 L2079.5,653.5 L2083.5,665.8 L2087.4,663.6 L2091.4,671.7 L2095.3,671.5 L2099.3,681.5 L2103.2,676.6 L2107.2,696.1 L2111.1,693.1 L2115.1,681.4 L2119.0,688.9 L2123.0,717.8 L2126.9,722.9 L2130.9,706.0 L2134.8,709.6 L2138.8,708.8 L2142.7,721.2 L2146.7,721.8 L2150.6,694.8 L2154.6,750.5 L2158.6,762.9 L2162.5,698.1 L2166.5,755.4 L2170.4,710.8 L2174.4,849.3 L2178.3,771.8 L2182.3,680.8 L2186.2,739.6 L2190.2,785.9 L2194.1,745.8 L2198.1,744.3 L2202.0,745.9 L2206.0,732.4 L2209.9,779.7 L2213.9,749.2 L2217.8,722.3 L2221.8,716.1 L2225.7,735.9 L2229.7,768.4 L2233.6,809.6 L2237.6,684.9 L2241.5,780.1 L2245.5,755.9 L2249.4,738.8 L2253.4,722.8 L2257.4,740.3 L2261.3,769.7 L2265.3,741.0 L2269.2,662.2 L2273.2,646.0 L2277.1,747.8 L2281.1,715.5 L2285.0,804.5 L2289.0,731.6 L2292.9,712.9 L2296.9,750.8 L2300.8,671.4 L2304.8,706.7 L2308.7,716.5 L2312.7,836.7 L2316.6,762.4 L2320.6,712.8 L2324.5,757.8 L2328.5,805.2 L2332.4,761.0 L2336.4,682.5 L2340.3,714.0 L2344.3,706.9 L2348.2,732.1 L2352.2,678.9 L2356.2,844.0 L2360.1,784.0 L2364.1,667.4 L2368.0,699.8 L2372.0,730.1" fill="none" stroke="#801080" stroke-opacity="0.34" stroke-width="2.1" stroke-linejoin="round"/><path d="M1463.0,678.9 L1467.0,849.3 L1470.9,765.8 L1474.9,705.5 L1478.8,686.8 L1482.8,695.2 L1486.7,749.9 L1490.7,764.2 L1494.6,757.5 L1498.6,764.1 L1502.5,686.4 L1506.5,712.2 L1510.4,643.0 L1514.4,662.1 L1518.3,686.0 L1522.3,749.4 L1526.2,699.1 L1530.2,707.0 L1534.1,776.3 L1538.1,771.3 L1542.0,751.4 L1546.0,676.7 L1549.9,738.5 L1553.9,775.4 L1557.8,720.7 L1561.8,701.4 L1565.8,768.8 L1569.7,652.4 L1573.7,751.6 L1577.6,684.4 L1581.6,698.3 L1585.5,750.7 L1589.5,728.0 L1593.4,722.8 L1597.4,736.2 L1601.3,695.3 L1605.3,720.5 L1609.2,778.8 L1613.2,718.2 L1617.1,756.7 L1621.1,726.6 L1625.0,709.8 L1629.0,718.9 L1632.9,681.4 L1636.9,713.3 L1640.8,720.9 L1644.8,658.0 L1648.7,685.4 L1652.7,704.8 L1656.6,699.7 L1660.6,701.6 L1664.6,686.3 L1668.5,690.0 L1672.5,642.3 L1676.4,648.0 L1680.4,669.8 L1684.3,660.5 L1688.3,655.8 L1692.2,654.5 L1696.2,654.4 L1700.1,636.2 L1704.1,639.7 L1708.0,625.0 L1712.0,624.3 L1715.9,614.8 L1719.9,624.8 L1723.8,608.6 L1727.8,620.7 L1731.7,609.0 L1735.7,606.8 L1739.6,606.7 L1743.6,606.3 L1747.5,594.9 L1751.5,593.3 L1755.4,592.4 L1759.4,587.1 L1763.4,583.4 L1767.3,578.7 L1771.3,573.0 L1775.2,572.6 L1779.2,565.2 L1783.1,556.4 L1787.1,550.9 L1791.0,541.8 L1795.0,530.4 L1798.9,527.0 L1802.9,519.9 L1806.8,510.8 L1810.8,506.2 L1814.7,508.4 L1818.7,499.1 L1822.6,488.7 L1826.6,474.4 L1830.5,461.0 L1834.5,446.8 L1838.4,432.1 L1842.4,415.6 L1846.3,396.1 L1850.3,372.7 L1854.2,329.1 L1858.2,295.3 L1862.2,265.0 L1866.1,239.1 L1870.1,213.2 L1874.0,186.2 L1878.0,153.1 L1881.9,110.6 L1885.9,99.9 L1889.8,96.5 L1893.8,99.3 L1897.7,103.4 L1901.7,102.2 L1905.6,100.1 L1909.6,97.1 L1913.5,96.1 L1917.5,99.1 L1921.4,109.0 L1925.4,122.5 L1929.3,141.7 L1933.3,161.8 L1937.2,184.1 L1941.2,209.9 L1945.1,236.5 L1949.1,268.6 L1953.0,303.1 L1957.0,331.5 L1961.0,355.7 L1964.9,385.7 L1968.9,405.9 L1972.8,421.5 L1976.8,439.8 L1980.7,459.6 L1984.7,473.9 L1988.6,488.8 L1992.6,506.0 L1996.5,519.6 L2000.5,529.4 L2004.4,539.5 L2008.4,547.9 L2012.3,562.0 L2016.3,569.6 L2020.2,585.9 L2024.2,587.1 L2028.1,606.7 L2032.1,609.5 L2036.0,625.8 L2040.0,630.1 L2043.9,645.2 L2047.9,636.8 L2051.8,651.8 L2055.8,646.9 L2059.8,659.4 L2063.7,658.2 L2067.7,652.3 L2071.6,638.9 L2075.6,657.7 L2079.5,639.2 L2083.5,670.0 L2087.4,674.5 L2091.4,676.1 L2095.3,676.0 L2099.3,680.6 L2103.2,680.2 L2107.2,689.9 L2111.1,696.6 L2115.1,652.8 L2119.0,672.2 L2123.0,698.5 L2126.9,707.3 L2130.9,723.7 L2134.8,686.6 L2138.8,719.0 L2142.7,645.4 L2146.7,749.7 L2150.6,701.8 L2154.6,672.5 L2158.6,732.2 L2162.5,643.0 L2166.5,680.8 L2170.4,681.4 L2174.4,746.2 L2178.3,680.5 L2182.3,681.2 L2186.2,713.4 L2190.2,651.9 L2194.1,706.4 L2198.1,797.3 L2202.0,706.6 L2206.0,653.7 L2209.9,741.9 L2213.9,691.6 L2217.8,743.3 L2221.8,719.8 L2225.7,817.1 L2229.7,786.6 L2233.6,731.1 L2237.6,741.7 L2241.5,789.5 L2245.5,693.7 L2249.4,707.1 L2253.4,849.3 L2257.4,798.1 L2261.3,698.9 L2265.3,739.5 L2269.2,693.3 L2273.2,678.2 L2277.1,734.4 L2281.1,730.2 L2285.0,692.8 L2289.0,731.6 L2292.9,796.7 L2296.9,699.2 L2300.8,710.5 L2304.8,744.5 L2308.7,703.1 L2312.7,737.5 L2316.6,738.8 L2320.6,693.2 L2324.5,775.9 L2328.5,785.2 L2332.4,729.7 L2336.4,774.1 L2340.3,691.2 L2344.3,752.4 L2348.2,790.0 L2352.2,739.6 L2356.2,809.0 L2360.1,672.3 L2364.1,849.3 L2368.0,698.4 L2372.0,704.6" fill="none" stroke="#202020" stroke-opacity="0.36" stroke-width="2.1" stroke-linejoin="round"/><path d="M1463.0,723.7 L1467.0,707.3 L1470.9,754.5 L1474.9,784.7 L1478.8,777.0 L1482.8,693.2 L1486.7,769.5 L1490.7,743.6 L1494.6,717.3 L1498.6,849.3 L1502.5,767.6 L1506.5,809.4 L1510.4,695.4 L1514.4,752.2 L1518.3,791.3 L1522.3,754.6 L1526.2,728.7 L1530.2,803.7 L1534.1,725.4 L1538.1,730.3 L1542.0,713.6 L1546.0,730.0 L1549.9,767.4 L1553.9,790.6 L1557.8,737.8 L1561.8,749.9 L1565.8,673.4 L1569.7,741.2 L1573.7,715.2 L1577.6,728.2 L1581.6,793.3 L1585.5,702.3 L1589.5,746.8 L1593.4,780.8 L1597.4,714.6 L1601.3,684.2 L1605.3,732.3 L1609.2,736.9 L1613.2,746.8 L1617.1,738.8 L1621.1,686.9 L1625.0,720.1 L1629.0,707.6 L1632.9,701.3 L1636.9,758.3 L1640.8,710.0 L1644.8,696.3 L1648.7,701.7 L1652.7,721.2 L1656.6,703.5 L1660.6,675.5 L1664.6,675.9 L1668.5,671.2 L1672.5,675.6 L1676.4,664.0 L1680.4,645.1 L1684.3,655.0 L1688.3,637.1 L1692.2,637.8 L1696.2,635.0 L1700.1,636.9 L1704.1,632.3 L1708.0,629.7 L1712.0,621.2 L1715.9,616.0 L1719.9,618.4 L1723.8,617.6 L1727.8,612.9 L1731.7,603.4 L1735.7,603.6 L1739.6,600.6 L1743.6,597.0 L1747.5,591.6 L1751.5,591.0 L1755.4,585.9 L1759.4,579.8 L1763.4,577.1 L1767.3,573.6 L1771.3,572.3 L1775.2,567.6 L1779.2,562.8 L1783.1,551.7 L1787.1,542.1 L1791.0,535.9 L1795.0,528.3 L1798.9,521.3 L1802.9,512.7 L1806.8,507.6 L1810.8,503.0 L1814.7,498.6 L1818.7,486.6 L1822.6,477.2 L1826.6,464.3 L1830.5,448.6 L1834.5,430.9 L1838.4,417.7 L1842.4,397.6 L1846.3,377.5 L1850.3,340.3 L1854.2,305.7 L1858.2,275.7 L1862.2,248.2 L1866.1,222.0 L1870.1,196.1 L1874.0,163.2 L1878.0,118.0 L1881.9,101.8 L1885.9,96.0 L1889.8,98.0 L1893.8,102.2 L1897.7,102.5 L1901.7,101.0 L1905.6,98.0 L1909.6,96.4 L1913.5,97.9 L1917.5,105.0 L1921.4,118.4 L1925.4,135.7 L1929.3,155.7 L1933.3,176.2 L1937.2,202.2 L1941.2,228.9 L1945.1,259.3 L1949.1,298.1 L1953.0,328.8 L1957.0,355.7 L1961.0,384.7 L1964.9,402.4 L1968.9,421.6 L1972.8,439.6 L1976.8,453.6 L1980.7,466.0 L1984.7,480.5 L1988.6,493.7 L1992.6,509.2 L1996.5,523.0 L2000.5,537.2 L2004.4,548.7 L2008.4,559.7 L2012.3,573.7 L2016.3,586.9 L2020.2,599.9 L2024.2,612.9 L2028.1,615.5 L2032.1,619.5 L2036.0,635.7 L2040.0,631.1 L2043.9,642.7 L2047.9,646.5 L2051.8,648.7 L2055.8,642.6 L2059.8,654.6 L2063.7,649.5 L2067.7,656.1 L2071.6,632.4 L2075.6,666.9 L2079.5,667.8 L2083.5,677.8 L2087.4,678.1 L2091.4,656.7 L2095.3,674.6 L2099.3,685.2 L2103.2,686.4 L2107.2,687.2 L2111.1,653.2 L2115.1,696.2 L2119.0,691.2 L2123.0,678.4 L2126.9,638.5 L2130.9,693.4 L2134.8,731.3 L2138.8,736.2 L2142.7,664.2 L2146.7,706.6 L2150.6,760.7 L2154.6,737.0 L2158.6,737.1 L2162.5,736.2 L2166.5,704.7 L2170.4,704.0 L2174.4,680.1 L2178.3,788.9 L2182.3,718.1 L2186.2,735.9 L2190.2,766.1 L2194.1,698.7 L2198.1,776.0 L2202.0,778.7 L2206.0,670.3 L2209.9,714.8 L2213.9,699.7 L2217.8,681.5 L2221.8,776.3 L2225.7,679.4 L2229.7,726.2 L2233.6,710.2 L2237.6,700.2 L2241.5,706.5 L2245.5,744.1 L2249.4,730.6 L2253.4,724.1 L2257.4,690.9 L2261.3,811.2 L2265.3,677.5 L2269.2,764.7 L2273.2,649.0 L2277.1,712.2 L2281.1,664.7 L2285.0,738.5 L2289.0,665.5 L2292.9,714.4 L2296.9,714.5 L2300.8,713.0 L2304.8,822.6 L2308.7,785.3 L2312.7,790.5 L2316.6,726.9 L2320.6,738.4 L2324.5,699.4 L2328.5,716.9 L2332.4,683.7 L2336.4,756.4 L2340.3,717.0 L2344.3,748.9 L2348.2,773.8 L2352.2,796.5 L2356.2,734.0 L2360.1,765.1 L2364.1,750.5 L2368.0,766.5 L2372.0,771.7" fill="none" stroke="#707070" stroke-opacity="0.36" stroke-width="2.1" stroke-linejoin="round"/></g><path d="M1463.0,93.5 V841.8 H2376.5" fill="none" stroke="#2c2c2c" stroke-width="3.4"/><path d="M1463.0,95.0h-15 M1463.0,160.2h-7.5 M1463.0,143.8h-7.5 M1463.0,132.1h-7.5 M1463.0,123.1h-7.5 M1463.0,115.7h-7.5 M1463.0,109.5h-7.5 M1463.0,104.0h-7.5 M1463.0,99.3h-7.5 M1463.0,188.3h-15 M1463.0,253.6h-7.5 M1463.0,237.2h-7.5 M1463.0,225.5h-7.5 M1463.0,216.5h-7.5 M1463.0,209.1h-7.5 M1463.0,202.8h-7.5 M1463.0,197.4h-7.5 M1463.0,192.6h-7.5 M1463.0,281.7h-15 M1463.0,346.9h-7.5 M1463.0,330.5h-7.5 M1463.0,318.8h-7.5 M1463.0,309.8h-7.5 M1463.0,302.4h-7.5 M1463.0,296.2h-7.5 M1463.0,290.7h-7.5 M1463.0,286.0h-7.5 M1463.0,375.0h-15 M1463.0,440.3h-7.5 M1463.0,423.9h-7.5 M1463.0,412.2h-7.5 M1463.0,403.2h-7.5 M1463.0,395.8h-7.5 M1463.0,389.5h-7.5 M1463.0,384.1h-7.5 M1463.0,379.3h-7.5 M1463.0,468.4h-15 M1463.0,533.6h-7.5 M1463.0,517.2h-7.5 M1463.0,505.5h-7.5 M1463.0,496.5h-7.5 M1463.0,489.1h-7.5 M1463.0,482.9h-7.5 M1463.0,477.4h-7.5 M1463.0,472.7h-7.5 M1463.0,561.8h-15 M1463.0,627.0h-7.5 M1463.0,610.6h-7.5 M1463.0,598.9h-7.5 M1463.0,589.9h-7.5 M1463.0,582.5h-7.5 M1463.0,576.2h-7.5 M1463.0,570.8h-7.5 M1463.0,566.0h-7.5 M1463.0,655.1h-15 M1463.0,720.3h-7.5 M1463.0,703.9h-7.5 M1463.0,692.2h-7.5 M1463.0,683.2h-7.5 M1463.0,675.8h-7.5 M1463.0,669.6h-7.5 M1463.0,664.1h-7.5 M1463.0,659.4h-7.5 M1463.0,748.4h-15 M1463.0,813.7h-7.5 M1463.0,797.3h-7.5 M1463.0,785.6h-7.5 M1463.0,776.6h-7.5 M1463.0,769.2h-7.5 M1463.0,762.9h-7.5 M1463.0,757.5h-7.5 M1463.0,752.7h-7.5 M1463.0,841.8h-15 M1463.0,841.8v14.5 M1539.0,841.8v7 M1615.0,841.8v14.5 M1691.0,841.8v7 M1767.0,841.8v14.5 M1843.0,841.8v7 M1919.0,841.8v14.5 M1995.0,841.8v7 M2071.0,841.8v14.5 M2147.0,841.8v7 M2223.0,841.8v14.5 M2299.0,841.8v7 M2375.0,841.8v14.5" stroke="#2c2c2c" stroke-width="3.6" fill="none"/><g stroke="#000" stroke-width="1.3"><text x="1433.5" y="109.3" font-size="43" text-anchor="end">1</text><text x="1433.5" y="202.7" font-size="43" text-anchor="end">0.1</text><text x="1433.5" y="296.0" font-size="43" text-anchor="end">0.01</text><text x="1433.5" y="389.3" font-size="43" text-anchor="end">0.001</text><text x="1412.7" y="484.8" font-size="43" text-anchor="end">10</text><text x="1439.5" y="471.1" font-size="26" text-anchor="end">-4</text><text x="1412.7" y="576.0" font-size="43" text-anchor="end">10</text><text x="1439.5" y="562.3" font-size="26" text-anchor="end">-5</text><text x="1412.7" y="667.4" font-size="43" text-anchor="end">10</text><text x="1439.5" y="653.7" font-size="26" text-anchor="end">-6</text><text x="1412.7" y="764.0" font-size="43" text-anchor="end">10</text><text x="1439.5" y="750.3" font-size="26" text-anchor="end">-7</text><text x="1412.7" y="850.2" font-size="43" text-anchor="end">10</text><text x="1439.5" y="836.5" font-size="26" text-anchor="end">-8</text><text x="1463.0" y="902.5" font-size="47" text-anchor="middle">2116</text><text x="1615.0" y="902.5" font-size="47" text-anchor="middle">2117</text><text x="1767.0" y="902.5" font-size="47" text-anchor="middle">2118</text><text x="1919.0" y="902.5" font-size="47" text-anchor="middle">2119</text><text x="2071.0" y="902.5" font-size="47" text-anchor="middle">2120</text><text x="2223.0" y="902.5" font-size="47" text-anchor="middle">2121</text><text x="2375.0" y="902.5" font-size="47" text-anchor="middle">2122</text><text x="1682.5" y="972" font-size="63.3">Wavelength (nm)</text></g></g></svg></div></body></html>
